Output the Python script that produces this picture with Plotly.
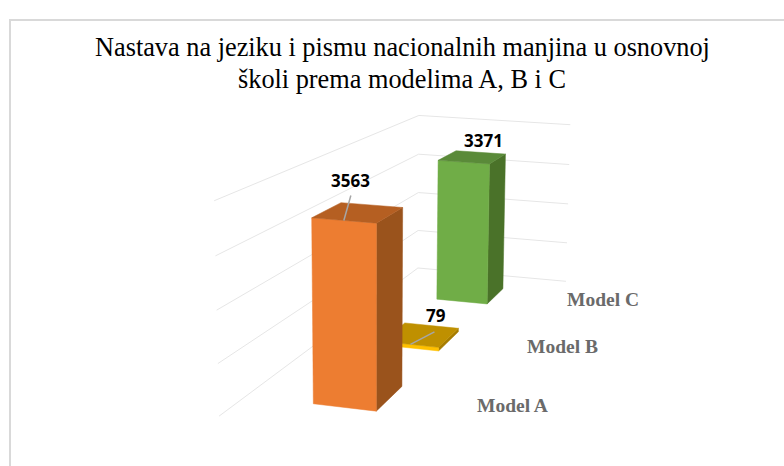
import plotly.graph_objects as go

# ---- data ----
categories = ["Model A", "Model B", "Model C"]
values = [3563, 79, 3371]
axis_max = 4000
grid_values = [0, 1000, 2000, 3000, 4000]
title_lines = ["Nastava na jeziku i pismu nacionalnih manjina u osnovnoj",
               "školi prema modelima A, B i C"]

# ---- colours: front, side, top ----
bar_colors = [("#ED7D31", "#9A531C", "#B55F22"),
              ("#FFC000", "#A67C00", "#BF9000"),
              ("#70AD47", "#4A7229", "#5A8A39")]
GRID = "#E6E6E6"
LEADER = "#A6A6A6"

# ---- oblique 3D view of the Excel chart: homogeneous projection onto the page ----
A = (312.7, 58.5, 246.7, -11.2)
B = (404.3, 2.5, -21.6, -215.5)
W = (1.0, -0.012, 0.28, -0.03)
U_MIN, U_MAX = -1.092, 2.06      # floor width
V_MIN, V_STEP = -0.145, 0.497    # floor depth per category
BAR_T0, BAR_T1 = 0.30, 0.68      # bar start/end inside its category slot


def project(u, t, val):
    v = V_MIN + V_STEP * t
    h = val / axis_max
    w = W[0] + W[1] * u + W[2] * v + W[3] * h
    return ((A[0] + A[1] * u + A[2] * v + A[3] * h) / w,
            (B[0] + B[1] * u + B[2] * v + B[3] * h) / w)


def poly(points, color):
    pts = [project(*p) for p in points]
    pts.append(pts[0])
    return go.Scatter(x=[p[0] for p in pts], y=[p[1] for p in pts], mode="lines",
                      fill="toself", fillcolor=color,
                      line=dict(color=color, width=0.5),
                      hoverinfo="skip", showlegend=False)


def line(points, color, width=1):
    pts = [project(*p) for p in points]
    return go.Scatter(x=[p[0] for p in pts], y=[p[1] for p in pts], mode="lines",
                      line=dict(color=color, width=width),
                      hoverinfo="skip", showlegend=False)


fig = go.Figure()
n = len(categories)

# walls: gridlines on the left and back wall
for g in grid_values:
    fig.add_trace(line([(U_MIN, 0, g), (U_MIN, n, g), (U_MAX, n, g)], GRID))

# bars, back to front
for i in reversed(range(n)):
    val = values[i]
    front, side, top = bar_colors[i]
    t0, t1 = i + BAR_T0, i + BAR_T1
    fig.add_trace(poly([(1, t0, 0), (1, t1, 0), (1, t1, val), (1, t0, val)], side))
    fig.add_trace(poly([(0, t0, 0), (1, t0, 0), (1, t0, val), (0, t0, val)], front))
    fig.add_trace(poly([(0, t0, val), (1, t0, val), (1, t1, val), (0, t1, val)], top))

# data labels
label_offsets = [(7, -40), (26, -29), (20, -22)]
leader_ends = [(7, -25), (24, -12.5), None]
leader_starts = [0.5, 0.5, None]
annotations = []
for i, val in enumerate(values):
    x0, y0 = project(0.5, i + BAR_T0, val)
    dx, dy = label_offsets[i]
    annotations.append(dict(x=x0 + dx, y=y0 + dy, text=str(val), showarrow=False,
                            xref="x", yref="y",
                            font=dict(family="Open Sans", size=17, color="#000000", weight="bold")))
    if leader_ends[i]:
        sx, sy = project(leader_starts[i], i + BAR_T0, val)
        ex, ey = leader_ends[i]
        fig.add_trace(go.Scatter(x=[sx, sx + ex], y=[sy, sy + ey], mode="lines",
                                 line=dict(color=LEADER, width=1.5),
                                 hoverinfo="skip", showlegend=False))

# category labels
label_u = [2.92, 3.01, 3.11]
for i, c in enumerate(categories):
    x0, y0 = project(label_u[i], i + 0.5, 0)
    annotations.append(dict(x=x0, y=y0 - 6, text=c, showarrow=False, xref="x", yref="y",
                            font=dict(family="Liberation Serif", size=19.5, color="#6A6A6A", weight="bold")))

# title
annotations.append(dict(x=402, y=47, text=title_lines[0], showarrow=False, xref="x", yref="y",
                        font=dict(family="Liberation Serif", size=26.3, color="#000000")))
annotations.append(dict(x=402, y=79, text=title_lines[1], showarrow=False, xref="x", yref="y",
                        font=dict(family="Liberation Serif", size=26.3, color="#000000")))

fig.update_layout(
    width=784, height=466, margin=dict(l=0, r=0, t=0, b=0),
    paper_bgcolor="white", plot_bgcolor="white", showlegend=False,
    xaxis=dict(range=[0, 784], visible=False, fixedrange=True),
    yaxis=dict(range=[466, 0], visible=False, fixedrange=True),
    annotations=annotations,
    shapes=[dict(type="path", path="M 10 466 L 10 20 L 784 20", xref="x", yref="y",
                 line=dict(color="#D9D9D9", width=2))],
)
fig.write_html("out.html", config={"displayModeBar": False},
               post_script="document.body.style.margin='0';document.body.style.overflow='hidden';")
